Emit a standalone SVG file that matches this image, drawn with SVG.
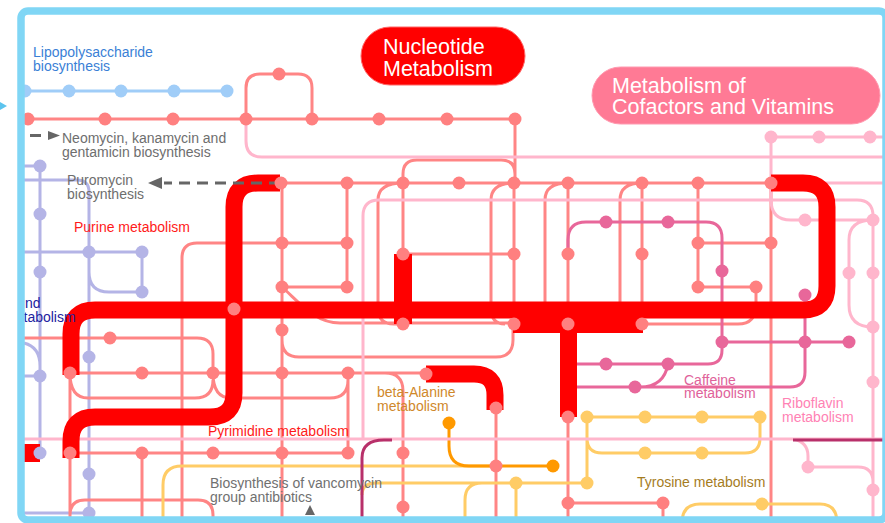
<svg xmlns="http://www.w3.org/2000/svg" width="885" height="523" viewBox="0 0 885 523">
<style>
.s{fill:none;stroke:#ff8585;stroke-width:3}
.l{fill:none;stroke:#b4b4e6;stroke-width:3}
.b{fill:none;stroke:#a0cdf8;stroke-width:3}
.p{fill:none;stroke:#ffb6cc;stroke-width:3}
.m{fill:none;stroke:#e8679a;stroke-width:3}
.dm{fill:none;stroke:#b8306a;stroke-width:3}
.y{fill:none;stroke:#ffcc66;stroke-width:3}
.o{fill:none;stroke:#ff9900;stroke-width:3}
.r{fill:none;stroke:#ff0000;stroke-width:17}
.rf{fill:#ff0000}
.dash{fill:none;stroke:#666;stroke-width:3;stroke-dasharray:11 7}
.ns circle{fill:#ff8080}
.nl circle{fill:#b4b4e6}
.nb circle{fill:#a0cdf8}
.np circle{fill:#ffb6cc}
.nm circle{fill:#e8679a}
.ny circle{fill:#ffcc66}
.no circle{fill:#ff9900}
text{font-family:"Liberation Sans",Arial,sans-serif;font-size:14px}
.pill{font-size:21.5px;fill:#fff}
</style>
<rect x="21" y="11" width="865" height="509" fill="#fff"/>
<polygon points="0,102 7,106 0,110" fill="#5cc4ee"/>
<g id="connectors">
<path class="b" d="M24,91 H227"/>
<path class="l" d="M24,166 H40 V453 M24,180 H77 Q89,180 89,192 V523 M24,252 H142 V292 M89,252 V272 Q89,292 109,292 H142 M24,376 H40 M24,343 Q40,347 40,366 M24,513 H89"/>
<path class="s" d="M24,119 H515 V183 M246,119 V88 Q246,74 260,74 H298 Q312,74 312,88 V119 M281,183 H771 M403,183 V174 Q403,160 417,160 H501 Q515,160 515,174 M282,183 V523 M182,523 V258 Q182,243 197,243 H347 M347,183 V287 H282 M282,287 C300,303 315,323 340,323 H514 M403,183 V254 H514 M514,183 V324 M568,183 V324 M642,183 V324 M403,183 Q378,183 378,200 V308 Q378,324 394,324 H403 M514,183 Q491,183 491,200 V308 Q491,324 505,324 M568,183 Q545,183 545,200 V318 M642,183 Q620,183 620,200 V313 M698,183 V287 H756 V305 Q756,324 738,324 H642 M698,243 H771 M771,183 V523 M282,330 V340 Q282,357 299,357 H496 Q513,357 513,340 V324 M24,338 H197 Q213,338 213,354 V373 M70,373 H426 M70,373 V523 M70,373 Q70,398 88,398 H195 Q213,398 213,380 M213,373 Q213,398 231,398 H330 Q348,398 348,380 M348,373 V453 M70,453 H348 M142,453 V523 M70,523 V515 Q70,500 85,500 H198 Q213,500 213,515 V523 M385,373 Q403,373 403,391 V523 M496,408 V523 M568,417 V523 M568,503 H663 V523"/>
<path class="y" d="M163,523 V485 Q163,466 182,466 H496 M362,495 Q362,483 376,483 H587 M516,483 V523 M465,523 V500 Q465,483 482,483 M587,483 V417 H760 V438 Q760,453 745,453 H602 Q587,453 587,438 M682,523 Q682,504 700,504 H820 Q837,504 837,523"/>
<path class="o" d="M449,423 V446 Q449,466 469,466 H553"/>
<path class="p" d="M246,119 V141 Q246,157 262,157 H885 M771,137 H885 M771,137 V200 Q771,220 791,220 H873 M363,439 V216 Q363,200 379,200 H857 Q873,200 873,216 V523 M24,439 H885 M873,220 Q849,220 849,240 V305 Q849,327 873,327 M793,439 Q808,442 808,456 V467 H858 Q873,467 873,482 M771,183 H885"/>
<path class="dm" d="M362,523 V458 Q362,440 384,440 H392 M793,440 H885"/>
<path class="m" d="M568,254 V240 Q568,222 586,222 H706 Q722,222 722,238 V350 Q722,364 708,364 H568 M668,364 Q664,387 640,387 M568,387 H790 Q805,387 805,372 V295 M722,342 H849"/>
<path class="r" d="M280,183 H258 Q234,183 234,207 V393 Q234,417 210,417 H95 Q71,417 71,441 V458"/>
<path class="r" d="M71,375 V334 Q71,310 95,310 H803 Q827,310 827,286 V207 Q827,183 803,183 H771"/>
<path class="r" d="M426,374 H474 Q495,374 495,395 V410"/>
<rect class="rf" x="513" y="302" width="130" height="31"/>
<rect class="rf" x="560" y="318" width="17" height="99"/>
<rect class="rf" x="394" y="254" width="18" height="70"/>
<rect class="rf" x="24" y="444" width="16" height="18"/>
<path class="dash" d="M280,183 H164"/>
<polygon points="148,183 162,177 162,189" fill="#666"/>
<path d="M30,135.5 H41" stroke="#666" stroke-width="3"/>
<polygon points="48,131 60,135.5 48,140" fill="#666"/>
<polygon points="305,515 310,505 315,515" fill="#666"/>
</g>
<g id="nodes-lps" class="nb">
<circle cx="25" cy="91" r="6.5"/><circle cx="69" cy="91" r="6.5"/><circle cx="121" cy="91" r="6.5"/><circle cx="174" cy="91" r="6.5"/><circle cx="227" cy="91" r="6.5"/>
</g>
<g id="nodes-lavender" class="nl">
<circle cx="40" cy="166" r="6.5"/><circle cx="40" cy="214" r="6.5"/><circle cx="89" cy="252" r="6.5"/><circle cx="142" cy="252" r="6.5"/><circle cx="40" cy="272" r="6.5"/><circle cx="142" cy="292" r="6.5"/><circle cx="40" cy="376" r="6.5"/><circle cx="40" cy="453" r="6.5"/><circle cx="89" cy="357" r="6.5"/><circle cx="89" cy="474" r="6.5"/><circle cx="89" cy="513" r="6.5"/>
</g>
<g id="nodes-nucleotide" class="ns">
<circle cx="28" cy="119" r="6.5"/><circle cx="105" cy="119" r="6.5"/><circle cx="173" cy="119" r="6.5"/><circle cx="246" cy="119" r="6.5"/><circle cx="312" cy="119" r="6.5"/><circle cx="379" cy="119" r="6.5"/><circle cx="447" cy="119" r="6.5"/><circle cx="515" cy="119" r="6.5"/><circle cx="279" cy="74" r="6.5"/>
<circle cx="281" cy="183" r="6.5"/><circle cx="347" cy="183" r="6.5"/><circle cx="403" cy="183" r="6.5"/><circle cx="459" cy="183" r="6.5"/><circle cx="514" cy="183" r="6.5"/><circle cx="568" cy="183" r="6.5"/><circle cx="642" cy="183" r="6.5"/><circle cx="698" cy="183" r="6.5"/><circle cx="771" cy="183" r="6.5"/>
<circle cx="282" cy="243" r="6.5"/><circle cx="347" cy="243" r="6.5"/><circle cx="282" cy="287" r="6.5"/><circle cx="347" cy="287" r="6.5"/><circle cx="282" cy="330" r="6.5"/>
<circle cx="403" cy="254" r="6.5"/><circle cx="514" cy="254" r="6.5"/><circle cx="568" cy="254" r="6.5"/><circle cx="642" cy="254" r="6.5"/>
<circle cx="403" cy="324" r="6.5"/><circle cx="514" cy="324" r="6.5"/><circle cx="568" cy="324" r="6.5"/><circle cx="642" cy="324" r="6.5"/>
<circle cx="698" cy="243" r="6.5"/><circle cx="771" cy="243" r="6.5"/><circle cx="698" cy="287" r="6.5"/><circle cx="756" cy="287" r="6.5"/>
<circle cx="234" cy="309" r="6.5"/><circle cx="110" cy="338" r="6.5"/>
<circle cx="70" cy="373" r="6.5"/><circle cx="142" cy="373" r="6.5"/><circle cx="213" cy="373" r="6.5"/><circle cx="282" cy="373" r="6.5"/><circle cx="348" cy="373" r="6.5"/><circle cx="426" cy="374" r="6.5"/>
<circle cx="70" cy="453" r="6.5"/><circle cx="142" cy="453" r="6.5"/><circle cx="213" cy="453" r="6.5"/><circle cx="282" cy="453" r="6.5"/><circle cx="348" cy="453" r="6.5"/><circle cx="403" cy="453" r="6.5"/>
<circle cx="403" cy="507" r="6.5"/><circle cx="496" cy="408" r="6.5"/><circle cx="496" cy="466" r="6.5"/><circle cx="568" cy="417" r="6.5"/><circle cx="568" cy="503" r="6.5"/><circle cx="663" cy="503" r="6.5"/>
</g>
<g id="nodes-riboflavin" class="np">
<circle cx="771" cy="137" r="6.5"/><circle cx="819" cy="137" r="6.5"/><circle cx="870" cy="137" r="6.5"/><circle cx="805" cy="220" r="6.5"/><circle cx="873" cy="220" r="6.5"/><circle cx="849" cy="273" r="6.5"/><circle cx="873" cy="273" r="6.5"/><circle cx="873" cy="327" r="6.5"/><circle cx="873" cy="382" r="6.5"/><circle cx="808" cy="467" r="6.5"/><circle cx="873" cy="490" r="6.5"/>
</g>
<g id="nodes-caffeine" class="nm">
<circle cx="606" cy="222" r="6.5"/><circle cx="668" cy="222" r="6.5"/><circle cx="722" cy="271" r="6.5"/><circle cx="805" cy="295" r="6.5"/><circle cx="722" cy="342" r="6.5"/><circle cx="805" cy="342" r="6.5"/><circle cx="849" cy="342" r="6.5"/><circle cx="606" cy="364" r="6.5"/><circle cx="668" cy="364" r="6.5"/><circle cx="635" cy="387" r="6.5"/>
</g>
<g id="nodes-alanine" class="no">
<circle cx="449" cy="423" r="6.5"/><circle cx="553" cy="466" r="6.5"/>
</g>
<g id="nodes-tyrosine" class="ny">
<circle cx="516" cy="483" r="6.5"/><circle cx="587" cy="417" r="6.5"/><circle cx="645" cy="417" r="6.5"/><circle cx="702" cy="417" r="6.5"/><circle cx="760" cy="417" r="6.5"/><circle cx="645" cy="453" r="6.5"/><circle cx="702" cy="453" r="6.5"/><circle cx="587" cy="483" r="6.5"/><circle cx="762" cy="504" r="6.5"/>
</g>
<g id="pill-nucleotide">
<rect x="361" y="27" width="164" height="58" rx="29" fill="#ff0000" stroke="#ff6666" stroke-width="1"/>
<text class="pill" x="383" y="54">Nucleotide</text>
<text class="pill" x="383" y="76">Metabolism</text>
</g>
<g id="pill-cofactors">
<rect x="592" y="67" width="288" height="57" rx="28.5" fill="#ff7a95" stroke="#ff9ab0" stroke-width="1"/>
<text class="pill" x="612" y="93">Metabolism of</text>
<text class="pill" x="612" y="114">Cofactors and Vitamins</text>
</g>
<g id="label-lps" fill="#3a7fd6"><text x="33" y="57">Lipopolysaccharide</text><text x="33" y="71">biosynthesis</text></g>
<g id="label-neomycin" fill="#6e6e6e"><text x="62" y="143">Neomycin, kanamycin and</text><text x="62" y="157">gentamicin biosynthesis</text></g>
<g id="label-puromycin" fill="#6e6e6e"><text x="67" y="185">Puromycin</text><text x="67" y="199">biosynthesis</text></g>
<g id="label-purine" fill="#ff1a1a"><text x="74" y="232">Purine metabolism</text></g>
<g id="label-lavender" fill="#2222a0"><text x="25" y="308">nd</text><text x="23.5" y="322">tabolism</text></g>
<g id="label-pyrimidine" fill="#ff1a1a"><text x="208" y="436">Pyrimidine metabolism</text></g>
<g id="label-alanine" fill="#d0882a"><text x="377" y="397">beta-Alanine</text><text x="377" y="411">metabolism</text></g>
<g id="label-caffeine" fill="#e0629a"><text x="684" y="385">Caffeine</text><text x="684" y="398">metabolism</text></g>
<g id="label-riboflavin" fill="#ff82b4"><text x="782" y="408">Riboflavin</text><text x="782" y="422">metabolism</text></g>
<g id="label-tyrosine" fill="#a57c1e"><text x="637" y="487">Tyrosine metabolism</text></g>
<g id="label-vancomycin" fill="#707070"><text x="210" y="488">Biosynthesis of vancomycin</text><text x="210" y="502">group antibiotics</text></g>
<rect x="21" y="11" width="865" height="509" rx="7" fill="none" stroke="#80d6f5" stroke-width="7.5"/>
</svg>
